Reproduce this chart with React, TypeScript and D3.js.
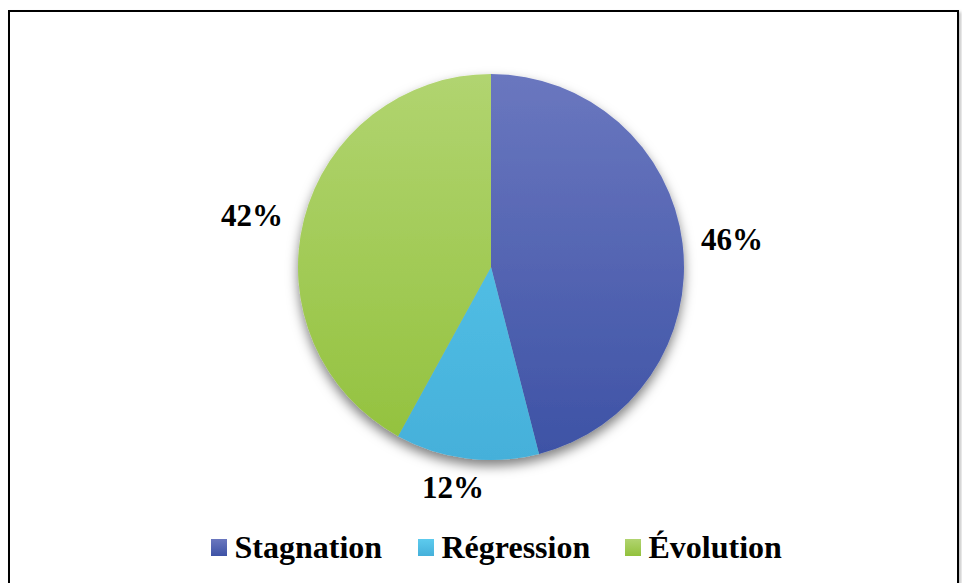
import React from "react";
import * as d3 from "d3";

const categories = ["Stagnation", "Régression", "Évolution"];
const values = [46, 12, 42];
const labels = ["46%", "12%", "42%"];
const colorsTop = ["#6a77bf", "#5dcbee", "#b1d470"];
const colorsBottom = ["#3d52a5", "#45b0da", "#92c13c"];

const FONT = "Liberation Serif";

export default function App() {
  const W = 962, H = 583;
  const cx = 491, cy = 267, r = 193;
  const pie = d3.pie<number>().sort(null).startAngle(0).endAngle(2 * Math.PI);
  const arcs = pie(values);
  const arc = d3.arc<d3.PieArcDatum<number>>().innerRadius(0).outerRadius(r);
  const labelPos: [number, number][] = [
    [732, 250],
    [453, 498],
    [252, 226],
  ];
  const legendX = [211, 418, 625];
  return (
    <svg width={W} height={H} style={{ position: "absolute", left: 0, top: 0 }}>
      <defs>
        {categories.map((c, i) => (
          <linearGradient key={c} id={`g${i}`} gradientUnits="userSpaceOnUse" x1={0} y1={-r} x2={0} y2={r}>
            <stop offset="0%" stopColor={colorsTop[i]} />
            <stop offset="100%" stopColor={colorsBottom[i]} />
          </linearGradient>
        ))}
        {categories.map((c, i) => (
          <linearGradient key={c + "l"} id={`lg${i}`} x1={0} y1={0} x2={0} y2={1}>
            <stop offset="0%" stopColor={colorsTop[i]} />
            <stop offset="100%" stopColor={colorsBottom[i]} />
          </linearGradient>
        ))}
        <filter id="shadow" x="-20%" y="-20%" width="140%" height="140%">
          <feDropShadow dx="0" dy="6" stdDeviation="6" floodColor="#000" floodOpacity="0.5" />
        </filter>
        <filter id="bshadow" x="-5%" y="-5%" width="110%" height="110%">
          <feDropShadow dx="2" dy="2" stdDeviation="1.5" floodColor="#000" floodOpacity="0.25" />
        </filter>
      </defs>
      <rect x={0} y={0} width={W} height={H} fill="#fff" />
      <rect x={9} y={11} width={949} height={600} fill="#fff" stroke="#000" strokeWidth={2} filter="url(#bshadow)" />
      <g transform={`translate(${cx},${cy})`} filter="url(#shadow)">
        {arcs.map((a, i) => (
          <path key={i} d={arc(a) || ""} fill={`url(#g${i})`} />
        ))}
      </g>
      {arcs.map((a, i) => (
        <text
          key={"t" + i}
          x={labelPos[i][0]}
          y={labelPos[i][1]}
          textAnchor="middle"
          style={{ fontFamily: FONT, fontWeight: "bold", fontSize: 31 }}
          fill="#000"
        >
          {labels[i]}
        </text>
      ))}
      {categories.map((c, i) => (
        <g key={"l" + i}>
          <rect x={legendX[i]} y={539} width={16} height={17} fill={`url(#lg${i})`} />
          <text
            x={legendX[i] + 23.5}
            y={558}
            style={{ fontFamily: FONT, fontWeight: "bold", fontSize: 32 }}
            fill="#000"
          >
            {c}
          </text>
        </g>
      ))}
    </svg>
  );
}
